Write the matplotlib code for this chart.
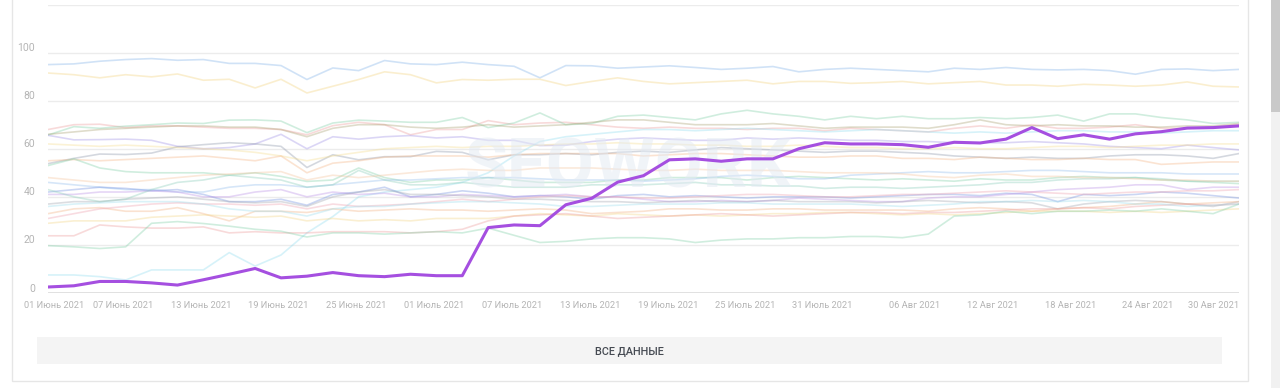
import numpy as np
import matplotlib
matplotlib.use('Agg')
import matplotlib.pyplot as plt
from matplotlib.patches import Rectangle
from matplotlib.transforms import offset_copy

plt.rcParams['font.family'] = ['Roboto', 'DejaVu Sans']

# главная линия (фиолетовая)
main_line = [2.5, 3, 4.8, 4.8, 4.2, 3.3, 5.5, 7.8, 10.2, 6.3, 7, 8.5, 7.2, 6.8, 7.8, 7.2, 7.2,
             27.2, 28.3, 28, 36.7, 39.4, 46.1, 48.8, 55.4, 55.8, 54.8, 55.8, 55.8, 60, 62.5, 62,
             62, 61.7, 60.6, 62.7, 62.4, 64, 68.8, 64.2, 65.8, 64, 66.2, 67.1, 68.6, 68.8, 69.5]

# фоновые линии
s_blue = [95, 95.3, 96.4, 97.1, 97.5, 96.8, 97.1, 95.5, 95.5, 94.6, 88.8, 93.6, 92.5, 96.7, 95.3, 95,
          96, 95, 94.3, 89.5, 94.6, 94.5, 93.5, 94, 94.5, 93.8, 93, 93.5, 94.2, 92, 93, 93.5, 93,
          92.5, 92, 93.5, 93, 93.8, 93, 92.8, 93, 92.5, 91, 93, 93.2, 92.5, 93]
s_yellow = [91.5, 90.8, 89.5, 90.8, 89.9, 91.1, 88.5, 88.9, 85.3, 88.9, 83.2, 86, 88.8, 92, 90.8, 87.4,
            88.8, 88.5, 88.9, 88.9, 86.3, 88, 89.5, 88, 87, 87.5, 88, 88.5, 87, 88, 88, 87.2, 87.5,
            88, 87, 87.5, 88, 86.5, 86.5, 86, 86.8, 86.5, 86, 86.5, 87.8, 86, 85.7]
s_pink = [68, 70, 70.2, 68.8, 69.5, 69.5, 69, 68.5, 68.5, 68, 65.8, 69.6, 71, 70, 65.8, 68, 68, 71.7,
          70, 70.7, 71, 70, 69, 68.5, 69, 68.5, 68.5, 68, 68.5, 68.5, 67.5, 68.5, 68, 67.5, 67, 68.5,
          69.5, 68.5, 70, 68.5, 68.5, 69, 70, 68.5, 68.5, 69, 70]
s_green = [65.7, 69.2, 68.5, 69.4, 70, 70.7, 70.5, 71.9, 72, 71.5, 66.7, 70.7, 71.9, 71.5, 71, 71, 73,
           68.8, 70.7, 74.9, 70, 70.5, 73.5, 74, 73, 72, 74.5, 76, 74.5, 73.5, 72, 73.5, 72.5, 73.5,
           72.5, 72.5, 73, 72.5, 73, 74, 71.5, 74.5, 74.5, 73, 72, 70.5, 71]
s_olive = [66, 67, 68, 68.5, 69, 69.5, 69.5, 69, 69, 68, 65, 68.5, 70, 70, 69, 68.5, 69, 70, 69, 69.5,
           70, 71, 72, 72, 71, 70, 70, 70, 70.5, 69.5, 68.5, 69, 69, 69, 68.5, 70, 72, 70, 69.5, 70,
           69.5, 69.5, 69, 69, 69.5, 69.5, 70.5]
s_lavender = [65.6, 63.7, 63.8, 64, 63.5, 61, 60, 60.5, 62, 66, 60, 65, 64, 65, 65.5, 64.5, 65, 63.5,
              63.5, 61.3, 61.5, 63, 64, 64.5, 64, 63.5, 63.5, 64.5, 64, 64.5, 64, 63.5, 63.5, 63, 63,
              62.5, 62.5, 62.5, 63, 62.5, 62, 61, 60.5, 60, 61.5, 60.5, 59.5]
s_slate = [53.8, 56, 57.8, 57.6, 58.2, 60.8, 61.7, 62.5, 62, 61, 52.2, 57.5, 55.4, 56.7, 56.7, 58.9,
           58.5, 55.4, 57.5, 57.5, 58, 57.5, 58.5, 59, 58.5, 59.5, 60.5, 60, 59.5, 59, 58.5, 59, 59,
           58.5, 58, 57, 56.5, 56, 56.5, 56, 56, 57, 57.5, 57.5, 57, 56, 58]
s_yellow2 = [62, 61.5, 61, 61.5, 61, 60.5, 60, 59.5, 58.5, 57, 55, 57, 58.5, 60, 60.5, 61, 60.5, 61, 61,
             61.5, 62, 62, 62.5, 62, 62, 61.5, 61.5, 61, 61, 61.5, 61, 60.5, 60.5, 60, 60, 60.5, 60,
             60, 60.5, 61, 61, 60.5, 61, 61.5, 61.5, 62, 62]
s_orange = [55, 55.5, 55, 55.5, 56, 56.5, 57, 56, 55, 57, 50, 54, 55, 56.5, 57, 57, 57, 56.5, 57.5, 58,
            58, 58, 58, 57, 57.5, 58, 58, 57.5, 57, 56.5, 56.5, 57, 57, 56, 56, 55.5, 56.5, 56, 55.5,
            55.5, 56, 55.5, 55.5, 53.5, 54, 54.5, 54.5]
s_cyan = [7.5, 7.5, 6.8, 5.4, 9.6, 9.6, 9.6, 16.8, 11.2, 15.8, 25, 31.8, 40, 42, 43, 44, 46, 50, 57,
          63, 65, 66, 67, 68, 68, 67.5, 68, 68.5, 68, 67.5, 67, 67.5, 68, 67.5, 67, 66.5, 67, 66.5,
          67, 67.5, 67.5, 67, 67, 66.5, 67, 67.5, 67.5]
s_green2 = [53, 55.8, 52, 50.5, 50, 50, 50, 49, 50, 48.5, 46.4, 47, 52, 48, 46, 47, 47, 48, 47, 46, 46,
            46, 47, 47, 48, 48, 48, 47, 48, 48.5, 48, 47.5, 47, 47.5, 47, 46.5, 47.5, 47, 47, 48,
            48.5, 48, 48, 47, 46.5, 46, 45.5]
s_blue2 = [46, 45, 44, 43, 43, 42, 42, 44, 45, 45, 44, 45, 46, 47, 47, 47.5, 48, 48, 48, 47.5, 47, 47,
           47, 46.5, 47, 47.5, 48.5, 49, 48.5, 47.5, 47.5, 49, 49.5, 50, 50.5, 50, 50, 50.5, 51, 51,
           50.5, 50, 50, 50, 49.5, 49.5, 49.5]
s_peri = [42, 43, 44, 43.5, 42.5, 43, 41, 38, 38, 39, 36.5, 41, 42, 44, 40, 41, 42.5, 41.5, 40, 40.5,
          40, 39, 40.5, 41, 40, 40.5, 40, 39.5, 40, 40, 40, 39.5, 40, 40.5, 41, 41, 40.5, 41.5, 41,
          38, 41, 40.5, 41, 42, 41.5, 40.5, 39.5]
s_purple2 = [41, 41, 42, 42, 42.5, 42, 40, 40, 42, 43, 40, 42, 41, 41.5, 40, 40, 41, 40.5, 40, 40.5, 41,
             40, 40, 39, 38, 38, 38.5, 38, 38.5, 39.5, 39, 38.5, 38, 38, 39.5, 40, 40, 41, 42, 43,
             43.5, 44, 45, 45, 43, 44, 44]
s_gray = [37, 38, 38, 39, 39.5, 40, 39, 38, 37.5, 38, 36, 40, 42, 43, 41, 41, 40.5, 40, 39, 39, 38.5,
          38, 38, 37.5, 38, 38.5, 38, 38, 38.5, 38, 38, 38, 37.5, 38, 38.5, 38, 37.5, 38, 37.5, 35,
          37, 38, 38.5, 38, 37, 36, 38]
s_orange2 = [33, 35, 35.5, 34, 34, 35.5, 33, 30, 34, 34, 33.5, 35, 34, 34.5, 35, 34.5, 34.5, 34, 34.5,
             35, 34.5, 33, 33.5, 34, 35, 35, 34.5, 34.5, 35, 35, 34.5, 34.5, 34.5, 34.5, 34, 35, 35.5,
             35, 34, 35, 35.5, 36, 37, 38, 37, 37.5, 38]
s_pink2 = [31, 33, 35, 36, 37, 37.5, 37, 37, 36.5, 37, 35, 37, 36, 36.5, 37, 38, 39, 38, 39, 40, 40.5,
           40, 40, 39.5, 39.5, 40, 40.5, 41, 41, 40.5, 40, 40, 40.5, 41, 41, 41.5, 42, 42.5, 42, 41.5,
           41, 41.5, 42, 42, 42.5, 42.5, 43]
s_yellow3 = [29, 30, 30, 30, 31.5, 32, 32.5, 32, 31.5, 32, 30, 31, 30, 30.5, 30, 31, 31, 31, 32, 33,
             32.5, 32, 33, 32.5, 32, 32.5, 32, 32.5, 33, 33, 33.5, 33.5, 33, 32.5, 33, 32.5, 33, 33.5,
             34, 34, 34, 33.5, 34, 33.5, 34, 34.5, 35]
s_pink3 = [23.8, 23.8, 28.3, 27.5, 27, 27, 27.5, 25, 25.5, 25, 25, 25.5, 25.5, 25.5, 25, 25.5, 26.5,
           30, 32, 32.5, 33, 32, 31, 31.5, 32, 32.5, 33, 32.5, 32, 32.5, 33, 33.5, 33.5, 33, 33.5,
           33.5, 34, 34.5, 35, 35, 35.5, 35, 36, 36.5, 37, 36.5, 37]
s_green3 = [19.7, 19.2, 18.5, 19.2, 29, 29.7, 28.9, 27.8, 26.5, 25.7, 23.3, 25, 25, 24.5, 25, 25.5, 25,
            27, 24, 21, 21.5, 22.5, 23, 23, 22.5, 21, 22, 22.5, 22.5, 23, 23, 23.5, 23.5, 23, 24.5,
            32, 32.5, 34, 33, 34, 34, 34.5, 34, 35, 34, 33, 37]
s_teal = [43, 40, 38, 39, 43, 46, 47, 49, 48, 47, 44, 45, 51, 47, 45, 45, 46, 45, 44, 44, 44, 45, 45,
          45, 45.5, 46, 45, 45, 44.5, 44.5, 43.5, 44, 44, 43.5, 44, 44.5, 45, 46, 46, 47, 47.5, 47.5,
          48, 47.5, 46.5, 46.5, 46.5]
s_cyan2 = [36, 37, 37.5, 38, 38, 38, 37, 35, 34, 34, 32, 35, 36, 36, 37, 37.5, 38, 38, 37.5, 37, 36, 36,
           36.5, 37, 37, 37, 37.5, 37.5, 37, 37, 37, 37, 36.5, 36, 36.5, 37, 38, 38, 38.5, 38, 38.5,
           38, 37, 37, 36, 36.5, 37]
s_peach = [48, 47, 46, 46, 47, 48, 49, 49.5, 50, 50.5, 47, 49, 48, 49, 50, 51, 51.5, 51, 51, 52, 52, 52,
           51.5, 51, 51, 51.5, 51, 51, 51, 50.5, 50, 50, 50, 49.5, 48.5, 48, 49, 49.5, 48.5, 48.5, 48,
           48, 47.5, 47, 47, 46.5, 46.5]

background = [
    (s_blue, '#7fb0e8'), (s_yellow, '#f3d27a'), (s_pink, '#ec9a9a'), (s_green, '#7dcfa6'),
    (s_olive, '#a8a070'), (s_lavender, '#9d8fe6'), (s_slate, '#8a94a8'), (s_yellow2, '#f5dc8c'),
    (s_orange, '#f4b483'), (s_cyan, '#8fdcef'), (s_green2, '#7dcfa6'), (s_blue2, '#8fbbec'),
    (s_peri, '#6f8ee0'), (s_purple2, '#b98ee6'), (s_gray, '#9ea3ae'), (s_orange2, '#f2b080'),
    (s_pink2, '#ee9fae'), (s_yellow3, '#f3d584'), (s_pink3, '#ec9a9a'), (s_green3, '#7dcfa6'),
    (s_teal, '#86cbb8'), (s_cyan2, '#9adcec'), (s_peach, '#f4c29a'),
]

tick_labels = ['01 Июнь 2021', '07 Июнь 2021', '13 Июнь 2021', '19 Июнь 2021', '25 Июнь 2021',
               '01 Июль 2021', '07 Июль 2021', '13 Июль 2021', '19 Июль 2021', '25 Июль 2021',
               '31 Июль 2021', '06 Авг 2021', '12 Авг 2021', '18 Авг 2021', '24 Авг 2021',
               '30 Авг 2021']
tick_pos = [0.23, 2.90, 5.91, 8.89, 11.91, 14.90, 17.92, 20.93, 23.95, 26.92, 29.92, 33.46, 36.47,
            39.49, 42.46, 45.01]
y_ticks = [0, 20, 40, 60, 80, 100]

W, H = 1280, 388
fig = plt.figure(figsize=(W / 100, H / 100), dpi=100)
fig.patch.set_facecolor('white')

# рамка карточки, кнопка, скроллбар
bg = fig.add_axes([0, 0, 1, 1])
bg.set_xlim(0, W)
bg.set_ylim(H, 0)
bg.axis('off')
bg.add_patch(Rectangle((11.5, -5), 1236, 385.5, fill=False, ec='#e6e6e6', lw=1))
bg.add_patch(Rectangle((37, 337), 1185, 27, fc='#f4f4f4', ec='none'))
bg.text(629, 351, 'ВСЕ ДАННЫЕ', ha='center', va='center', fontsize=7.8, color='#454a52',
        fontweight='medium')
bg.add_patch(Rectangle((1271, 0), 9, H, fc='#f1f1f1', ec='none'))
bg.add_patch(Rectangle((1271, 0), 9, 112, fc='#c9c9c9', ec='none'))

ax = fig.add_axes([48 / W, (H - 293) / H, (1239 - 48) / W, (293 - 4.5) / H])
ax.set_facecolor('none')
x = np.arange(len(main_line))

for vals, col in background:
    ax.plot(x, vals, color=col, lw=1.2, alpha=0.36, zorder=2, solid_joinstyle='round')

ax.text(0.487, 0.43, 'SEOWORK', transform=ax.transAxes, ha='center', va='center',
        fontsize=50, fontweight='bold', color='#e3eaf3', alpha=0.5, zorder=3)

ax.plot(x, main_line, color='#a54fe0', lw=2.2, zorder=5, solid_joinstyle='round')

ax.set_xlim(0, 46)
ax.set_ylim(0, 120)
for yv in [20, 40, 60, 80, 100, 120]:
    ax.axhline(yv, color='#ececec', lw=1, zorder=1)
ax.axhline(0, color='#dcdcdc', lw=1.2, zorder=1)
for s in ax.spines.values():
    s.set_visible(False)
ax.set_xticks([])
ax.set_yticks([])

lab_tr = offset_copy(ax.get_yaxis_transform(), fig=fig, x=-13, y=4.5, units='dots')
for yv in y_ticks:
    ax.text(0, yv, str(yv), transform=lab_tr, ha='right', va='center', fontsize=7.5,
            color='#b5b5b5')

xl_tr = offset_copy(ax.get_xaxis_transform(), fig=fig, x=0, y=-12, units='dots')
for p, t in zip(tick_pos, tick_labels):
    ax.text(p, 0, t, transform=xl_tr, ha='center', va='center', fontsize=6.7, color='#b5b5b5')

fig.savefig('out.png', dpi=100)
